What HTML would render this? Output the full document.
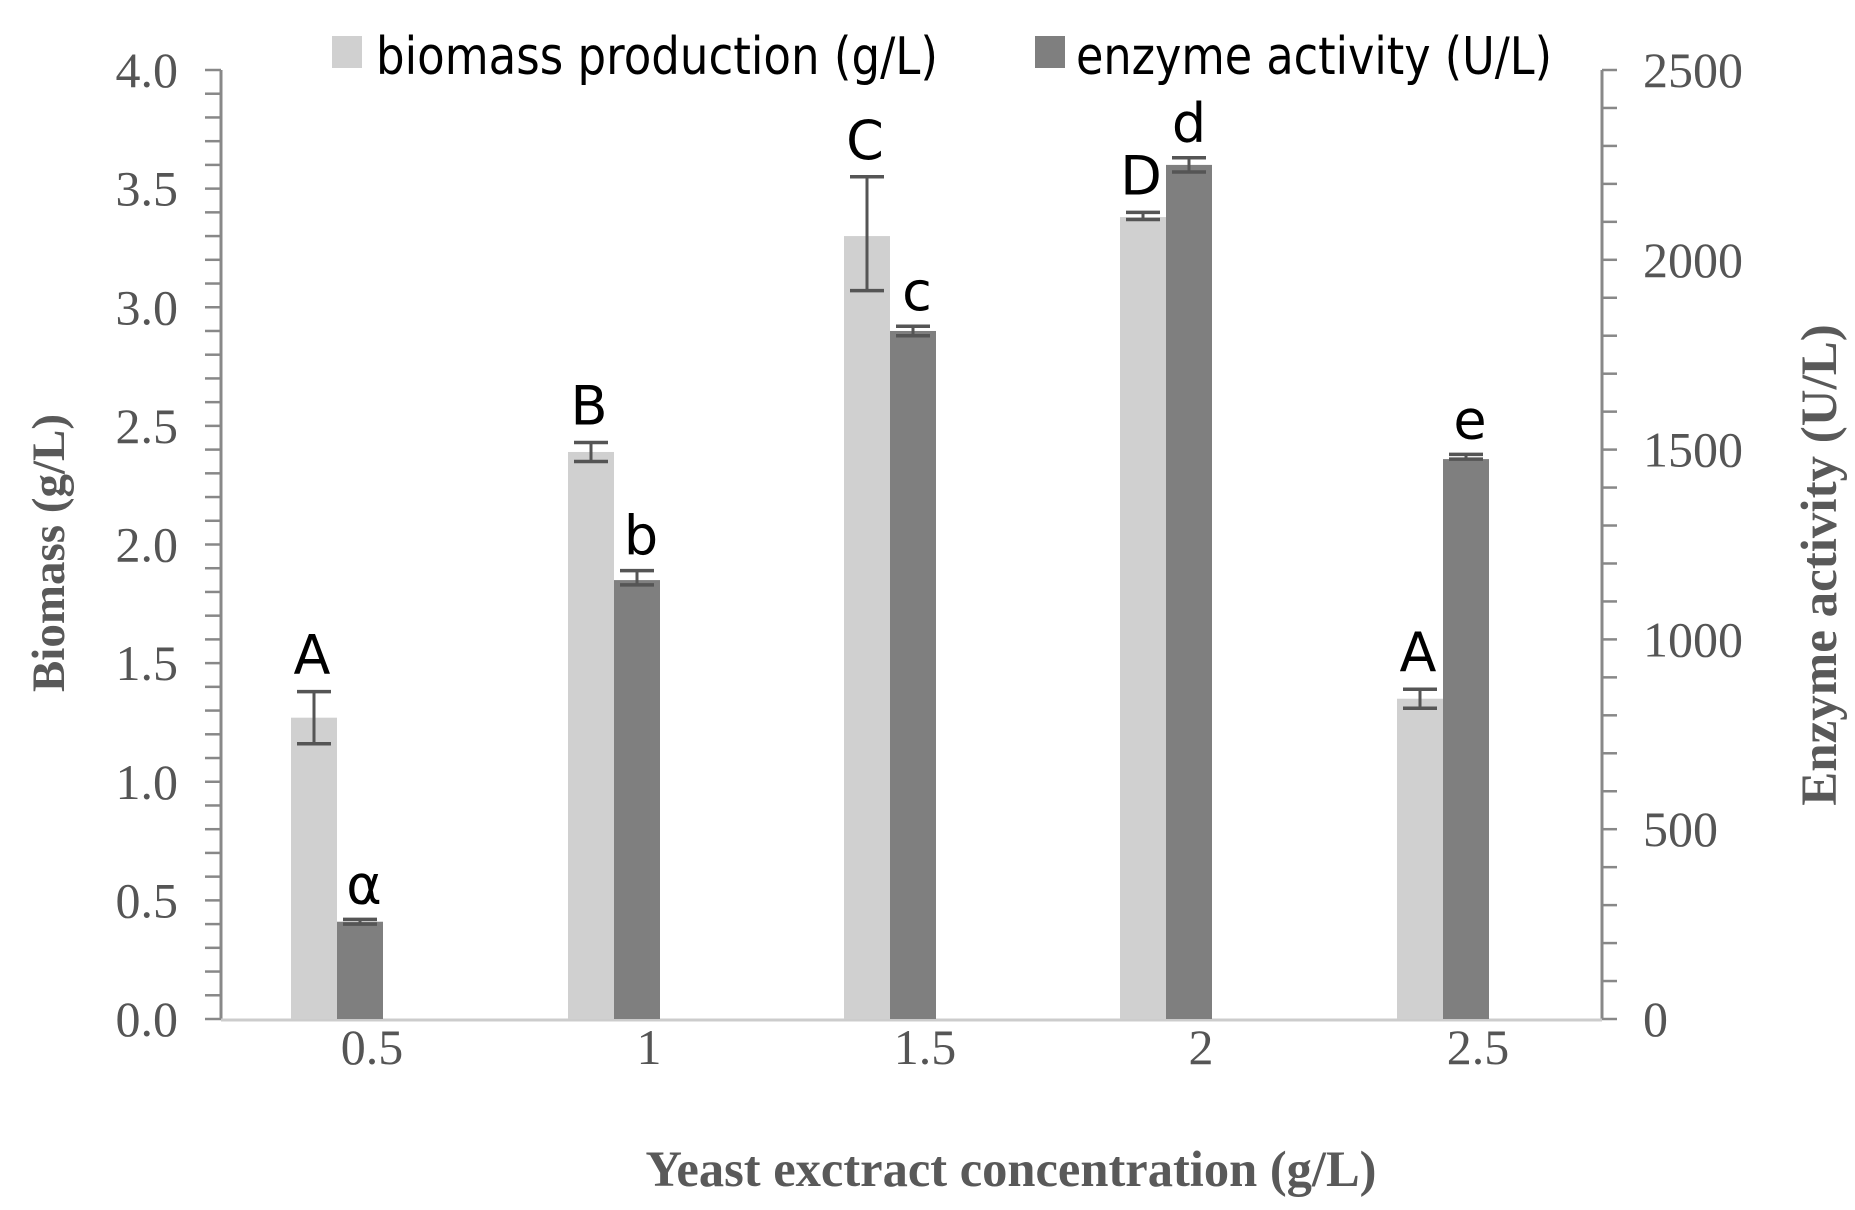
<!DOCTYPE html>
<html><head><meta charset="utf-8"><style>
html,body{margin:0;padding:0;background:#fff;}
svg{display:block;}
.tk{font-family:"Liberation Serif",serif;font-size:50px;fill:#555;}
.lt{font-family:"DejaVu Sans","Liberation Sans",sans-serif;font-size:54px;fill:#000;}
.lg{font-family:"DejaVu Sans","Liberation Sans",sans-serif;font-size:52px;fill:#000;}
.ti{font-family:"Liberation Serif",serif;font-size:51px;font-weight:bold;fill:#595959;}
</style></head><body>
<svg width="1855" height="1210" viewBox="0 0 1855 1210" xmlns="http://www.w3.org/2000/svg">
<g id="g"></g>
<script>
(function(){
var ns="http://www.w3.org/2000/svg",g=document.getElementById("g");
function el(t,a,txt){var e=document.createElementNS(ns,t);for(var k in a)e.setAttribute(k,a[k]);if(txt!==undefined)e.textContent=txt;g.appendChild(e);return e;}
var y0=1019,top=70,ppu=(y0-top)/4;
function Y(v){return y0-v*ppu;}
el("line",{x1:221,y1:top,x2:221,y2:y0,stroke:"#888","stroke-width":3});
for(var i=0;i<=40;i++){var y=Y(i/10);el("line",{x1:205,y1:y,x2:221,y2:y,stroke:"#888","stroke-width":2.5});}
for(var i=0;i<=8;i++){el("text",{x:178,y:Y(i*0.5)+17,"text-anchor":"end","class":"tk"},(i*0.5).toFixed(1));}
el("line",{x1:1602,y1:top,x2:1602,y2:y0,stroke:"#888","stroke-width":3});
for(var i=0;i<=25;i++){var y=y0-i*(y0-top)/25;el("line",{x1:1602,y1:y,x2:1617,y2:y,stroke:"#888","stroke-width":2.5});}
for(var i=0;i<=5;i++){el("text",{x:1643,y:y0-i*(y0-top)/5+17,"class":"tk"},String(i*500));}
el("line",{x1:221,y1:y0+1,x2:1602,y2:y0+1,stroke:"#ccc","stroke-width":3});
var cs=[337,614,890,1166,1443],xl=["0.5","1","1.5","2","2.5"];
var bio=[1.27,2.39,3.30,3.38,1.35],be=[[1.16,1.38],[2.35,2.43],[3.07,3.55],[3.37,3.40],[1.31,1.39]];
var enz=[0.41,1.85,2.90,3.60,2.36],ee=[[0.40,0.42],[1.83,1.89],[2.88,2.92],[3.57,3.63],[2.36,2.38]];
var bl=["A","B","C","D","A"],el2=["α","b","c","d","e"];
var bw=46;
for(var i=0;i<5;i++){
 var c=cs[i];
 el("rect",{x:c-bw,y:Y(bio[i]),width:bw,height:Y(0)-Y(bio[i]),fill:"#d0d0d0"});
 el("rect",{x:c,y:Y(enz[i]),width:bw,height:Y(0)-Y(enz[i]),fill:"#7f7f7f"});
 var bx=c-bw/2,ex=c+bw/2;
 [[bx,be[i]],[ex,ee[i]]].forEach(function(p){
  var x=p[0],a=Y(p[1][0]),b=Y(p[1][1]);
  el("line",{x1:x,y1:a,x2:x,y2:b,stroke:"#555","stroke-width":3});
  el("line",{x1:x-17,y1:a,x2:x+17,y2:a,stroke:"#555","stroke-width":3.5});
  el("line",{x1:x-17,y1:b,x2:x+17,y2:b,stroke:"#555","stroke-width":3.5});
 });
 el("text",{x:bx-2,y:Y(be[i][1])-18,"text-anchor":"middle","class":"lt"},bl[i]);
 el("text",{x:ex+(i==3?0:4),y:Y(ee[i][1])-16,"text-anchor":"middle","class":"lt"},el2[i]);
 el("text",{x:c+35,y:1064,"text-anchor":"middle","class":"tk"},xl[i]);
}
el("rect",{x:332,y:36,width:30,height:32,fill:"#d0d0d0"});
el("text",{x:376,y:74,"class":"lg",textLength:562,lengthAdjust:"spacingAndGlyphs"},"biomass production (g/L)");
el("rect",{x:1035,y:36,width:30,height:32,fill:"#7f7f7f"});
el("text",{x:1076,y:74,"class":"lg",textLength:476,lengthAdjust:"spacingAndGlyphs"},"enzyme activity (U/L)");
el("text",{x:1011,y:1186,"text-anchor":"middle","class":"ti",textLength:731,lengthAdjust:"spacingAndGlyphs"},"Yeast exctract concentration (g/L)");
el("text",{x:0,y:0,"text-anchor":"middle","class":"ti",style:"font-size:47px",transform:"translate(64,553) rotate(-90)"},"Biomass (g/L)");
el("text",{x:0,y:0,"text-anchor":"middle","class":"ti",transform:"translate(1836,565) rotate(-90)"},"Enzyme activity (U/L)");
})();
</script>
</svg>
</body></html>
